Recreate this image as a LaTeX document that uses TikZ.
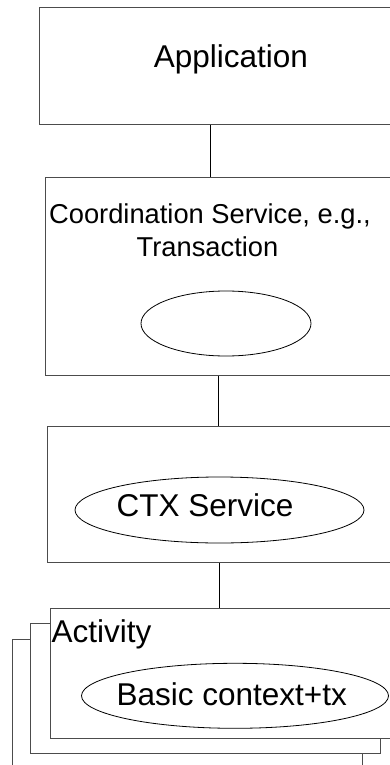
\documentclass[tikz,border=0pt]{standalone}
\usepackage{fontspec}
\setmainfont{Liberation Sans}
\usetikzlibrary{shapes.geometric}

\tikzset{
  layerbox/.style={draw=black!70, fill=white, line width=1pt, rectangle, inner sep=0pt},
  oval/.style={draw=black, line width=0.8pt, ellipse, inner sep=0pt},
  label/.style={inner sep=0pt, text=black},
  link/.style={draw=black, line width=1pt},
}

% box given by its top-left and bottom-right corners (in px, y downwards)
\newcommand{\layerat}[5]{%
  \node[layerbox, anchor=north west, minimum width={#4-#2}, minimum height={#5-#3}] (#1) at (#2,#3) {};}

\begin{document}
\begin{tikzpicture}[x=1pt, y=-1pt]
  \useasboundingbox (0,0) rectangle (390,765);
  \clip (0,0) rectangle (390,765);

  % application layer
  \layerat{app}{39}{7}{420}{124}
  \node[label, anchor=base] (apptext) at (230.8,67.3) {\fontsize{31.5}{36}\selectfont Application};

  % coordination service layer
  \layerat{coord}{45}{177}{420}{375}
  \node[label, anchor=base] (coordA) at (210,223.3) {\fontsize{27.3}{32}\selectfont Coordination Service, e.g.,};
  \node[label, anchor=base] (coordB) at (207.5,256) {\fontsize{27.3}{32}\selectfont Transaction};
  \node[oval, minimum width=170pt, minimum height=65pt] (coordoval) at (226,323.5) {};

  % context service layer
  \layerat{ctx}{47}{426}{420}{562}
  \node[oval, minimum width=289pt, minimum height=66pt] (ctxoval) at (219.5,510) {};
  \node[label, anchor=base] (ctxtext) at (205,516.7) {\fontsize{31.5}{36}\selectfont CTX Service};

  % stacked activities
  \layerat{actC}{12}{639}{362}{790}
  \layerat{actB}{30}{623}{380}{753}
  \layerat{actA}{50}{608}{399}{738}
  \node[label, anchor=base west] (acttext) at (51.5,642.7) {\fontsize{31.5}{36}\selectfont Activity};
  \node[oval, minimum width=307pt, minimum height=65pt] (basicoval) at (235,695.8) {};
  \node[label, anchor=base] (basictext) at (231.7,705) {\fontsize{31.5}{36}\selectfont Basic context+tx};

  % connectors between the layers
  \coordinate (l1) at (210,0);
  \coordinate (l2) at (218,0);
  \coordinate (l3) at (219,0);
  \draw[link] (app.south -| l1) -- (coord.north -| l1);
  \draw[link] (coord.south -| l2) -- (ctx.north -| l2);
  \draw[link] (ctx.south -| l3) -- (actA.north -| l3);
\end{tikzpicture}
\end{document}
